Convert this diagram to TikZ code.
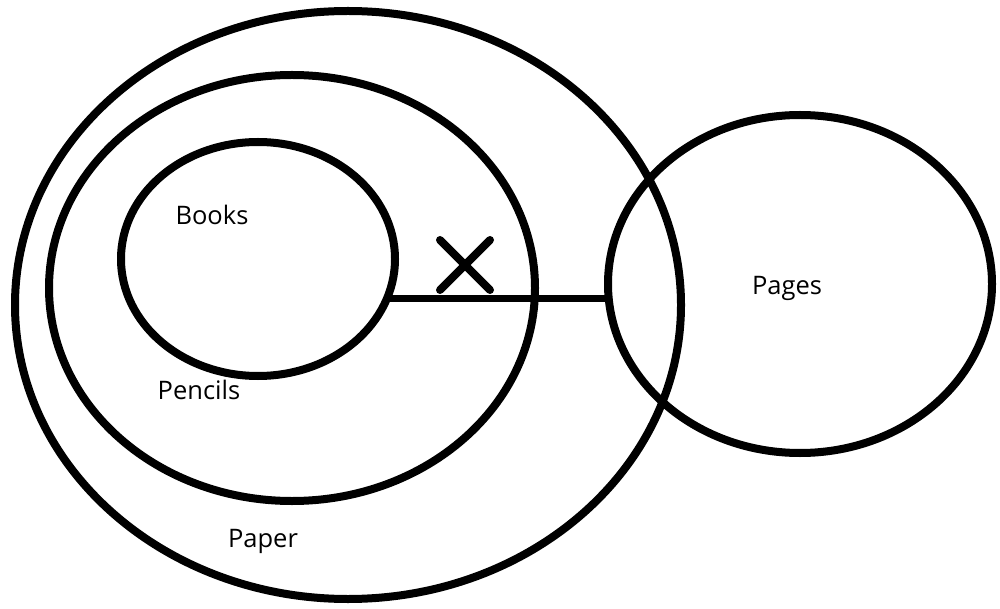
\documentclass[tikz,border=0pt]{standalone}
\usepackage{fontspec}
\setmainfont{Open Sans}
\usetikzlibrary{shapes.geometric,shapes.misc}
\begin{document}
\begin{tikzpicture}[x=1pt,y=-1pt,
  setoval/.style={draw=black, line width=8pt, ellipse, inner sep=0pt, outer sep=0pt},
  lbl/.style={font=\fontsize{25.5}{28}\selectfont, text=black, inner sep=0pt},
  link/.style={draw=black, line width=7pt}]
\useasboundingbox (0,0) rectangle (1000,609);
\node[setoval, minimum width=666pt, minimum height=588pt] (paper) at (348,305) {};
\node[setoval, minimum width=486pt, minimum height=426pt] (pencils) at (292,288) {};
\node[setoval, minimum width=274pt, minimum height=234pt] (books) at (258,259) {};
\node[setoval, minimum width=384pt, minimum height=338pt] (pages) at (800,284) {};
\node[lbl] (tbooks) at (212,215) {Books};
\node[lbl] (tpencils) at (199,390) {Pencils};
\node[lbl] (tpaper) at (263,541) {Paper};
\node[lbl] (tpages) at (787,288) {Pages};
\draw[link] (books.-17.2) -- (books.-17.2 -| pages.west);
\node[cross out, draw=black, line width=8pt, line cap=round, minimum size=42pt, inner sep=0pt] (xmark) at (465,265) {};
\end{tikzpicture}
\end{document}
